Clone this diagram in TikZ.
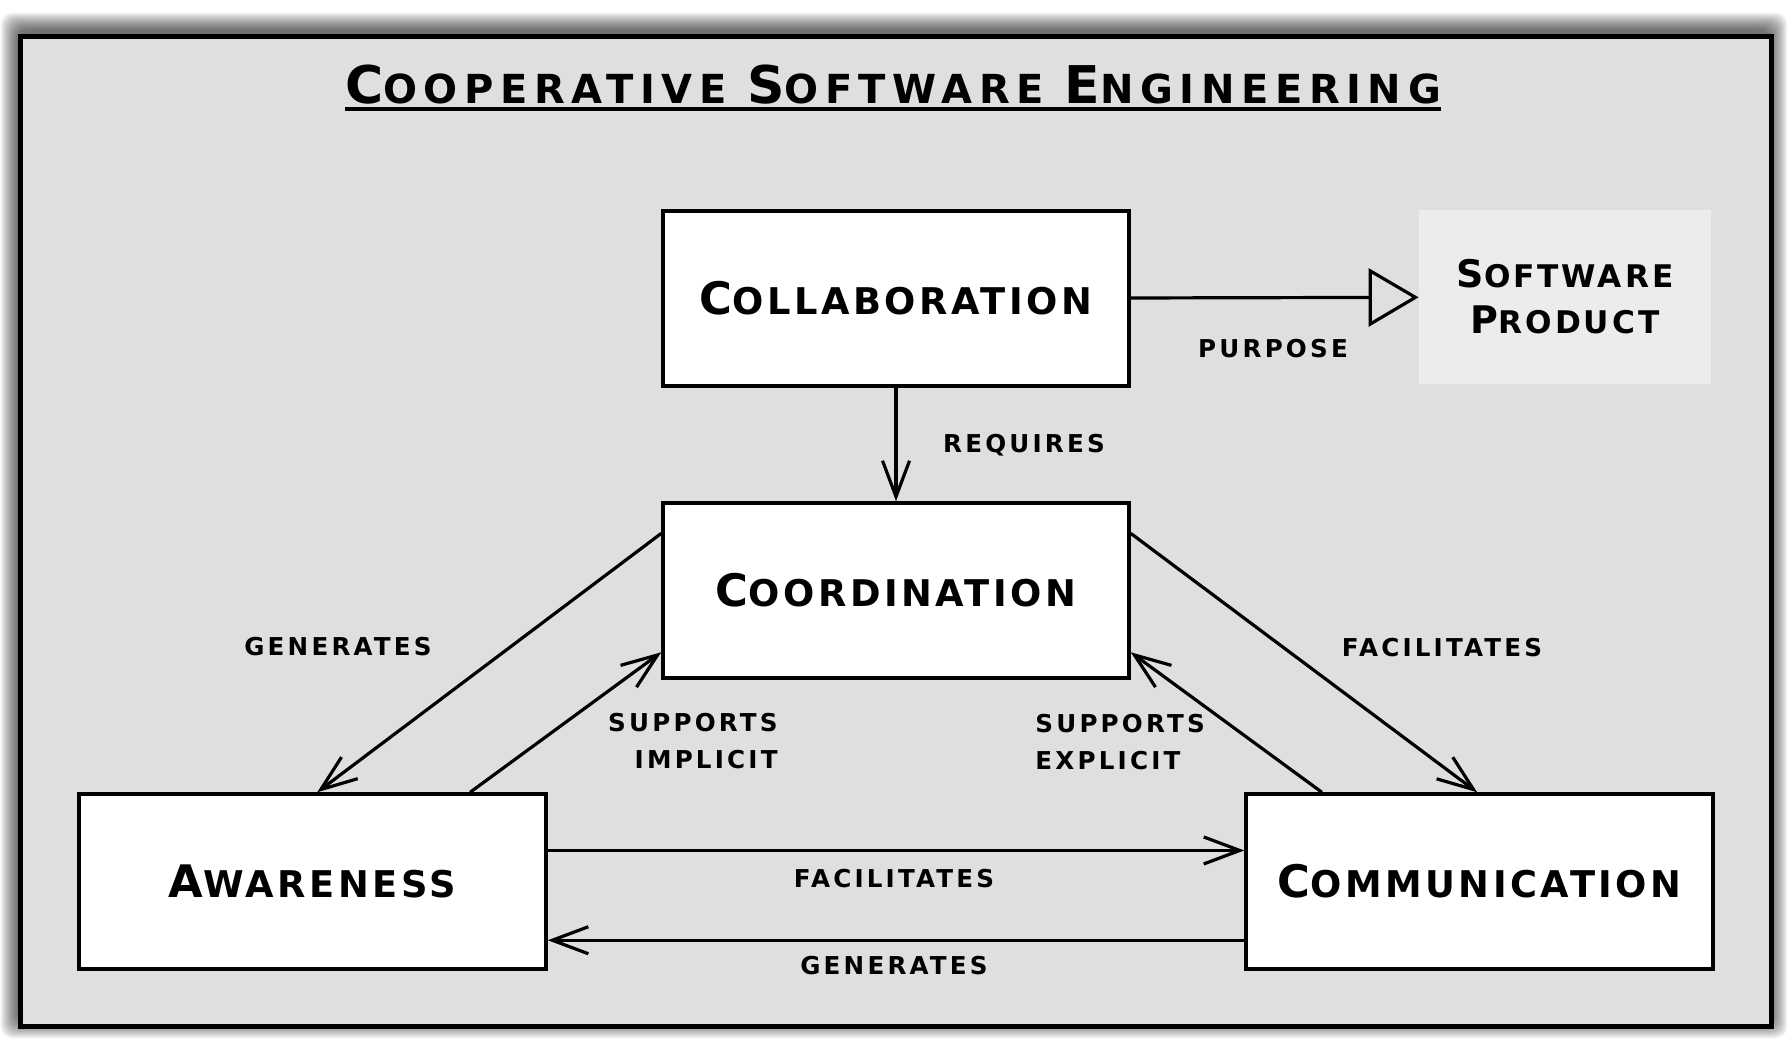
\documentclass[tikz,border=0pt]{standalone}
\usepackage{fontspec}
\newfontfamily\boxfont[LetterSpace=9.5]{DejaVu Sans}
\newfontfamily\titlefont[LetterSpace=16.5]{DejaVu Sans}
\newfontfamily\labelfont[LetterSpace=13]{DejaVu Sans}
\usetikzlibrary{arrows.meta,calc}
\definecolor{panel}{HTML}{DFDFDF}
\definecolor{product}{HTML}{ECECEC}

% two-size capitals: a large initial followed by smaller capitals
\newcommand\sizedcaps[4]{{\fontsize{#1}{#1}\selectfont #3}{\fontsize{#2}{#2}\selectfont\MakeUppercase{#4}}}
\newcommand\boxword[2]{\sizedcaps{22.4pt}{18.4pt}{#1}{#2}}
\newcommand\prodword[2]{\sizedcaps{19pt}{15.6pt}{#1}{#2}}
\newcommand\titleword[2]{\sizedcaps{26pt}{20pt}{#1}{#2}}
\newcommand\lbl[1]{\MakeUppercase{#1}}

\begin{document}
\begin{tikzpicture}[x=0.5pt,y=-0.5pt,
  concept/.style={draw=black, line width=1.75pt, fill=white, minimum width=233pt,
    minimum height=87.5pt, inner sep=0pt, font=\boxfont\bfseries},
  link/.style={line width=1.6pt, -{Straight Barb[length=18pt,width=13.5pt,line width=1.6pt]}},
  rel/.style={font=\labelfont\bfseries\fontsize{12.3pt}{18.9pt}\selectfont, inner sep=0pt, text=black},
]
\useasboundingbox (0,0) rectangle (1792,1046);

% soft shadow behind the panel
\foreach \k in {1,...,18}
  \fill[black, opacity=0.045, rounded corners=6pt] (18.6-\k,30.6-\k) rectangle (1769.4+\k,1020.3+\k);

% panel
\draw[line width=2.2pt, fill=panel] (20.6,36.6) rectangle (1771.4,1026.3);

% title
\node[font=\titlefont\bfseries\fontsize{20pt}{20pt}\selectfont, inner sep=0pt, anchor=base] (title) at (893,103)
  {\titleword{C}{ooperative} \titleword{S}{oftware} \titleword{E}{ngineering}};
\draw[line width=1.7pt] ([yshift=-3pt]title.base west) -- ([yshift=-3pt]title.base east);

% concepts
\node[concept] (collab) at (896,298.5) {\boxword{C}{ollaboration}};
\node[concept] (coord) at (896,590.5) {\boxword{C}{oordination}};
\node[concept, minimum width=233.5pt] (aware) at (312.5,881.5) {\boxword{A}{wareness}};
\node[concept, minimum width=233.5pt] (comm) at (1479.5,881.5) {\boxword{C}{ommunication}};
\node[fill=product, minimum width=146pt, minimum height=87pt, align=center, inner sep=0pt,
  font=\boxfont\bfseries\fontsize{15.6pt}{22.9pt}\selectfont] (product) at (1565,297)
  {\prodword{S}{oftware}\\\prodword{P}{roduct}};

% attachment points on the box sides
\coordinate (coordW1) at ($(coord.north west)!0.18!(coord.south west)$);
\coordinate (coordW2) at ($(coord.north west)!0.846!(coord.south west)$);
\coordinate (coordE1) at ($(coord.north east)!0.18!(coord.south east)$);
\coordinate (coordE2) at ($(coord.north east)!0.846!(coord.south east)$);
\coordinate (awareN1) at ($(aware.north west)!0.51!(aware.north east)$);
\coordinate (awareN2) at ($(aware.north west)!0.835!(aware.north east)$);
\coordinate (commN1) at ($(comm.north west)!0.495!(comm.north east)$);
\coordinate (commN2) at ($(comm.north west)!0.165!(comm.north east)$);
\coordinate (awareE1) at ($(aware.north east)!0.326!(aware.south east)$);
\coordinate (awareE2) at ($(aware.north east)!0.829!(aware.south east)$);
\coordinate (commW1) at ($(comm.north west)!0.326!(comm.south west)$);
\coordinate (commW2) at ($(comm.north west)!0.829!(comm.south west)$);

% relations
\draw[line width=1.6pt, -{Triangle[fill=panel,length=25pt,width=29pt,line width=1.6pt]}] (collab) -- (product);
\draw[link] (collab) -- (coord);
\draw[link] (coordW1) -- (awareN1);
\draw[link] (awareN2) -- (coordW2);
\draw[link] (coordE1) -- (commN1);
\draw[link] (commN2) -- (coordE2);
\draw[link] (awareE1) -- (commW1);
\draw[link] (commW2) -- (awareE2);

% relation labels
\node[rel] (lpurpose) at (1273,349) {\lbl{purpose}};
\node[rel] (lrequires) at (1024,445) {\lbl{requires}};
\node[rel] (lgenleft) at (338,647) {\lbl{generates}};
\node[rel] (lfacright) at (1442,648) {\lbl{facilitates}};
\node[rel, align=right, anchor=east] (limplicit) at (778,741) {\lbl{supports}\\\lbl{implicit}};
\node[rel, align=left, anchor=west] (lexplicit) at (1035,742) {\lbl{supports}\\\lbl{explicit}};
\node[rel] (lfacbottom) at (894,879) {\lbl{facilitates}};
\node[rel] (lgenbottom) at (894,966) {\lbl{generates}};
\end{tikzpicture}
\end{document}
